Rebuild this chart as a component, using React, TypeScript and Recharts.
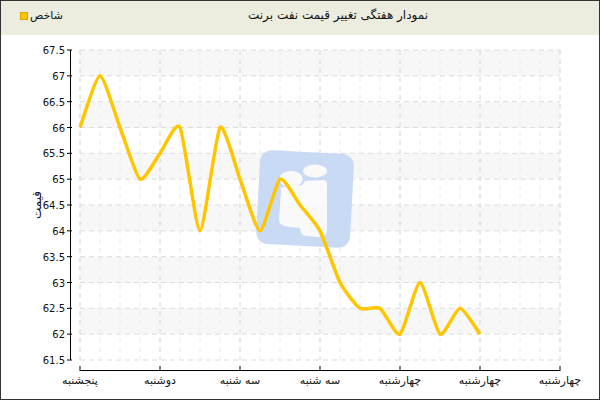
import { LineChart, Line, XAxis, YAxis, CartesianGrid, Customized } from "recharts";

const prices = [66, 67, 66, 65, 65.5, 66, 64, 66, 65, 64, 65, 64.5, 64, 63, 62.5, 62.5, 62, 63, 62, 62.5, 62];
const dayTicks = [0, 4, 8, 12, 16, 20, 24];
const dayLabels = ["پنجشنبه", "دوشنبه", "سه شنبه", "سه شنبه", "چهارشنبه", "چهارشنبه", "چهارشنبه"];
const minorXTicks = [0, 1, 2, 3, 4, 5, 6, 7, 8, 9, 10, 11, 12, 13, 14, 15, 16, 17, 18, 19, 20, 21, 22, 23, 24];
const priceTicks = [61.5, 62, 62.5, 63, 63.5, 64, 64.5, 65, 65.5, 66, 66.5, 67, 67.5];
const minorYTicks = [61.75, 62.25, 62.75, 63.25, 63.75, 64.25, 64.75, 65.25, 65.75, 66.25, 66.75, 67.25];

const title = "نمودار هفتگی تغییر قیمت نفت برنت";
const seriesName = "شاخص";
const yTitle = "قیمت";

const data = prices.map((v, i) => ({ day: i, price: v }));

const FONT = "'DejaVu Sans', sans-serif";

// light cardinal spline: peaks stay fairly sharp
const K = 0.1;
function cardinal(context: any) {
  let pts: number[][] = [];
  return {
    areaStart() {},
    areaEnd() {},
    lineStart() {
      pts = [];
    },
    lineEnd() {
      if (!pts.length) return;
      context.moveTo(pts[0][0], pts[0][1]);
      for (let i = 0; i < pts.length - 1; i++) {
        const p0 = pts[i - 1] || pts[i];
        const p1 = pts[i];
        const p2 = pts[i + 1];
        const p3 = pts[i + 2] || p2;
        context.bezierCurveTo(
          p1[0] + (p2[0] - p0[0]) * K,
          p1[1] + (p2[1] - p0[1]) * K,
          p2[0] - (p3[0] - p1[0]) * K,
          p2[1] - (p3[1] - p1[1]) * K,
          p2[0],
          p2[1]
        );
      }
    },
    point(x: number, y: number) {
      pts.push([+x, +y]);
    },
  };
}

const XTick = (props: any) => {
  const { x, y, payload } = props;
  const k = dayTicks.indexOf(payload.value);
  return (
    <g>
      <line x1={x} x2={x} y1={y + 6} y2={y + 11} stroke="#000" />
      <text x={x} y={y + 24} textAnchor="middle" fontSize={11} fontFamily={FONT} fill="#111">
        {dayLabels[k]}
      </text>
    </g>
  );
};

const YTick = (props: any) => {
  const { x, y, payload } = props;
  return (
    <g>
      <line x1={x - 13} x2={x - 8} y1={y} y2={y} stroke="#000" />
      <text x={x - 15} y={y + 4} textAnchor="end" fontSize={10} fontFamily={FONT} fill="#111">
        {payload.value}
      </text>
    </g>
  );
};

const MinorYTick = (props: any) => {
  const { x, y } = props;
  return <line x1={x - 13} x2={x - 9.5} y1={y} y2={y} stroke="#e00000" />;
};

const Watermark = () => (
  <g opacity={0.9}>
    <rect x={258} y={152} width={94} height={94} rx={12} fill="#c4d7f4" transform="rotate(3 305 200)" />
    <ellipse cx={315} cy={171} rx={12} ry={6.5} fill="#fafafa" />
    <ellipse cx={291} cy={179} rx={11.5} ry={8} fill="#fafafa" />
    <path
      d="M281 190 Q279 188 283 187 L302 185 L305 181 L324 180 Q328 181 327 186 L327 230 Q327 237 318 237 L306 236 Q300 235 300 228 L290 227 Q279 226 279 220 Z"
      fill="#fafafa"
    />
  </g>
);

export default function App() {
  return (
    <div style={{ position: "relative", width: 600, height: 400, background: "#fff", fontFamily: FONT }}>
      <style>{"body{margin:0}"}</style>
      <div style={{ position: "absolute", left: 0, top: 0 }}>
        <LineChart width={600} height={400} data={data} margin={{ top: 50, right: 40, bottom: 0, left: 0 }}>
          <CartesianGrid
            vertical={false}
            stroke="#dcdcdc"
            strokeDasharray="5 4"
            horizontalFill={["#f7f7f7", "#ffffff"]}
          />
          <CartesianGrid xAxisId="minor" horizontal={false} stroke="#ececec" strokeDasharray="5 4" />
          <CartesianGrid horizontal={false} stroke="#dcdcdc" strokeDasharray="5 4" />
          <XAxis
            dataKey="day"
            type="number"
            domain={[0, 24]}
            ticks={dayTicks}
            interval={0}
            height={40}
            tickSize={0}
            tickMargin={0}
            tick={<XTick />}
            axisLine={{ stroke: "#000", transform: "translate(0,10.5)" } as any}
          />
          <XAxis xAxisId="minor" dataKey="day" type="number" domain={[0, 24]} ticks={minorXTicks} interval={0} hide />
          <YAxis
            yAxisId="minor"
            width={0}
            domain={[61.5, 67.5]}
            ticks={minorYTicks}
            interval={0}
            tickSize={0}
            tickMargin={0}
            axisLine={false}
            tick={<MinorYTick />}
          />
          <YAxis
            width={80}
            domain={[61.5, 67.5]}
            ticks={priceTicks}
            interval={0}
            tickSize={0}
            tickMargin={0}
            tick={<YTick />}
            axisLine={{ stroke: "#000", transform: "translate(-9.5,0)" } as any}
            label={{ value: yTitle, angle: -90, position: "center", dx: -3, fontSize: 12, fontFamily: FONT, fill: "#111" }}
          />
          <Customized component={Watermark} />
          <Line
            type={cardinal as any}
            dataKey="price"
            stroke="#ffc600"
            strokeWidth={3.5}
            dot={false}
            activeDot={false}
            isAnimationActive={false}
          />
        </LineChart>
      </div>
      <div
        style={{
          position: "absolute",
          left: 0,
          top: 0,
          width: 600,
          height: 35,
          background: "#ecedde",
        }}
      >
        <div
          style={{
            position: "absolute",
            left: 0,
            width: 600,
            top: 8,
            textAlign: "center",
            paddingLeft: 76,
            boxSizing: "border-box",
            fontSize: 12,
            color: "#111",
          }}
        >
          {title}
        </div>
        <div style={{ position: "absolute", left: 20, top: 9, display: "flex", alignItems: "center", fontSize: 11, color: "#111" }}>
          <span style={{ display: "inline-block", width: 6, height: 6, background: "#ffc600", border: "0.5px solid #d9a400", marginRight: 2 }} />
          <span>{seriesName}</span>
        </div>
      </div>
      <div
        style={{
          position: "absolute",
          left: 0,
          top: 0,
          width: 600,
          height: 400,
          border: "1px solid #333",
          boxSizing: "border-box",
          pointerEvents: "none",
        }}
      />
    </div>
  );
}
